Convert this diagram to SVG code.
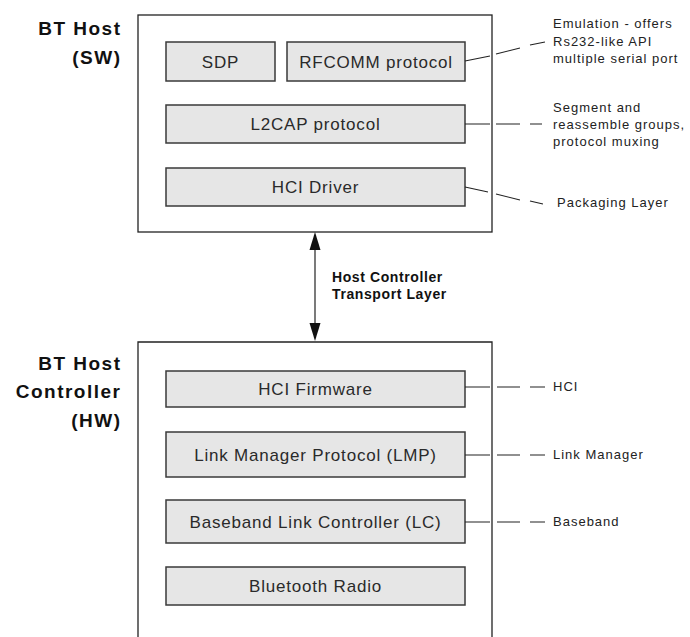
<svg xmlns="http://www.w3.org/2000/svg" width="690" height="637" viewBox="0 0 690 637">
<style>
.outer{fill:#fff;stroke:#222;stroke-width:1.3}
.box{fill:#e6e6e6;stroke:#3a3a3a;stroke-width:1.5}
.lbl{font-family:"Liberation Sans",Arial,sans-serif;font-size:17px;letter-spacing:0.8px;fill:#2a2a2a;text-anchor:middle}
.ann{font-family:"Liberation Sans",Arial,sans-serif;font-size:13px;letter-spacing:1px;fill:#222}
.side{font-family:"Liberation Sans",Arial,sans-serif;font-size:19px;font-weight:bold;letter-spacing:1.5px;fill:#111;text-anchor:end}
.bold{font-family:"Liberation Sans",Arial,sans-serif;font-size:14px;font-weight:bold;letter-spacing:0.6px;fill:#111}
.ln{stroke:#222;stroke-width:1.2;fill:none}
</style>
<rect width="690" height="637" fill="#fff"/>
<g id="host">
<rect class="outer" x="138" y="15" width="354" height="217"/>
<text class="side" x="121.5" y="34.5">BT Host</text>
<text class="side" x="121.5" y="64">(SW)</text>
</g>
<g id="controller">
<path class="outer" d="M138,637 V342 H492 V637"/>
<text class="side" x="121.5" y="369.5">BT Host</text>
<text class="side" x="121.5" y="397.5">Controller</text>
<text class="side" x="121.5" y="427">(HW)</text>
</g>
<g id="sdp"><rect class="box" x="166" y="42" width="109" height="39"/><text class="lbl" x="220.5" y="67.5">SDP</text></g>
<g id="rfcomm"><rect class="box" x="287" y="42" width="178" height="39"/><text class="lbl" x="376" y="67.5">RFCOMM protocol</text></g>
<g id="l2cap"><rect class="box" x="166" y="105" width="299" height="38"/><text class="lbl" x="315.5" y="130">L2CAP protocol</text></g>
<g id="hcidriver"><rect class="box" x="166" y="168" width="299" height="38"/><text class="lbl" x="315.5" y="193">HCI Driver</text></g>
<g id="hcifirmware"><rect class="box" x="166" y="371" width="299" height="36"/><text class="lbl" x="315.5" y="395">HCI Firmware</text></g>
<g id="lmp"><rect class="box" x="166" y="432" width="299" height="45"/><text class="lbl" x="315.5" y="460.5">Link Manager Protocol (LMP)</text></g>
<g id="lc"><rect class="box" x="166" y="500" width="299" height="43"/><text class="lbl" x="315.5" y="527.5">Baseband Link Controller (LC)</text></g>
<g id="radio"><rect class="box" x="166" y="567" width="299" height="38"/><text class="lbl" x="315.5" y="592">Bluetooth Radio</text></g>
<g id="annotations">
<text class="ann" x="553" y="28">Emulation - offers</text>
<text class="ann" x="553" y="46">Rs232-like API</text>
<text class="ann" x="553" y="63">multiple serial port</text>
<text class="ann" x="553" y="112">Segment and</text>
<text class="ann" x="553" y="129">reassemble groups,</text>
<text class="ann" x="553" y="146">protocol muxing</text>
<text class="ann" x="557" y="207">Packaging Layer</text>
<text class="ann" x="553" y="391">HCI</text>
<text class="ann" x="553" y="459">Link Manager</text>
<text class="ann" x="553" y="526">Baseband</text>
<text class="bold" x="332" y="282">Host Controller</text>
<text class="bold" x="332" y="299">Transport Layer</text>
</g>
<g id="connectors">
<path class="ln" d="M465,61 L490,56 M496,54 L520,48 M530,45 L545,42"/>
<path class="ln" d="M465,124 H490 M496,124 H520 M530,124 H542"/>
<path class="ln" d="M465,187 L488,192 M496,194 L520,200 M530,201 L543,204"/>
<path class="ln" d="M465,387 H490 M497,387 H520 M530,387 H545"/>
<path class="ln" d="M465,455 H490 M497,455 H520 M530,455 H545"/>
<path class="ln" d="M465,522 H490 M497,522 H520 M530,522 H545"/>
<path class="ln" d="M315,245 V328"/>
<path d="M315,232 L320.5,250 L309.5,250 Z" fill="#111"/>
<path d="M315,341 L320.5,323 L309.5,323 Z" fill="#111"/>
</g>
</svg>
